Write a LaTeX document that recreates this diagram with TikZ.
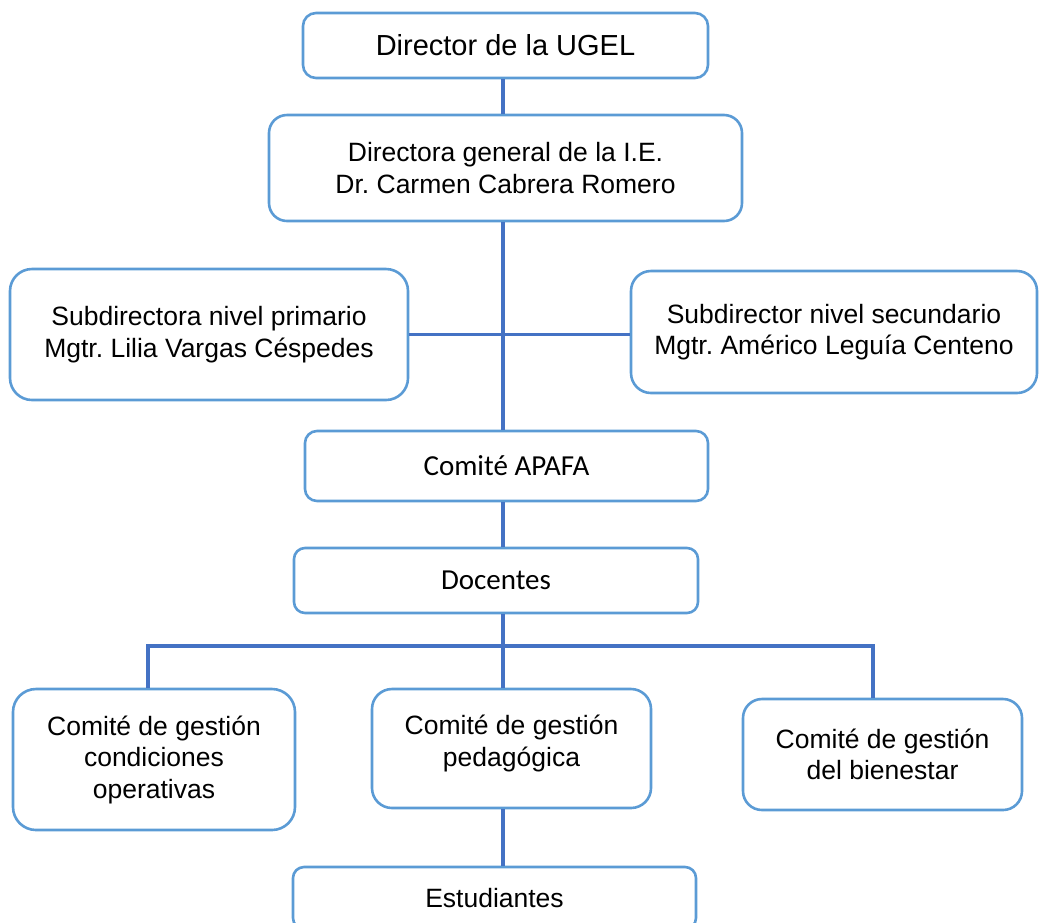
\documentclass[tikz,border=0pt]{standalone}
\usepackage{fontspec}
\setmainfont{Liberation Sans}
\newfontfamily\calibri{Carlito}
\usepackage{tikz}
\frenchspacing

\definecolor{boxblue}{HTML}{5B9BD5}
\definecolor{lineblue}{HTML}{4472C4}

\begin{document}
\begin{tikzpicture}[x=1pt,y=-1pt,
  box/.style={draw=boxblue,line width=2.6pt,rounded corners=#1,align=center,inner sep=0pt,
    font=\fontsize{26.5}{31.5}\selectfont},
  box/.default=13pt,
  link/.style={draw=lineblue,line width=3.8pt}]
\useasboundingbox (0,0) rectangle (1040,922);

\node[box,minimum width=405pt,minimum height=65pt,font=\fontsize{29}{34}\selectfont] (ugel) at (505.5,45.5) {Director de la UGEL};
\node[box=18pt,minimum width=473pt,minimum height=106pt] (dirgen) at (505.5,168) {Directora general de la I.E.\\Dr. Carmen Cabrera Romero};
\node[box=22pt,minimum width=398pt,minimum height=131pt] (subprim) at (209,334.5) {Subdirectora nivel primario\\Mgtr. Lilia Vargas Céspedes};
\node[box=20pt,minimum width=406pt,minimum height=122pt] (subsec) at (834,332) {Subdirector nivel secundario\\Mgtr. Américo Leguía Centeno};
\node[box=12pt,minimum width=403pt,minimum height=70pt,font=\calibri\fontsize{29}{34}\selectfont] (apafa) at (506.5,466) {Comité APAFA};
\node[box=11pt,minimum width=404pt,minimum height=65pt,font=\calibri\fontsize{29}{34}\selectfont] (docentes) at (496,580.5) {Docentes};
\node[box=23pt,minimum width=282pt,minimum height=141pt] (condop) at (154,759.5) {Comité de gestión\\condiciones\\operativas};
\node[box=20pt,minimum width=279pt,minimum height=119pt] (pedag) at (511.5,748.5) {Comité de gestión\\pedagógica\\[-16pt]};
\node[box=19pt,minimum width=279pt,minimum height=111pt] (bienestar) at (882.5,754.5) {Comité de gestión\\del bienestar};
\node[box=11pt,minimum width=403pt,minimum height=62pt] (estud) at (494.5,898) {Estudiantes};

\coordinate (spine) at (503,0);
\coordinate (busL) at (148,646);
\coordinate (busR) at (873,646);

\path[link] (ugel.south -| spine)      edge (dirgen.north -| spine)
            (dirgen.south -| spine)    edge (apafa.north -| spine)
            (subprim.east)             edge (subprim.east -| subsec.west)
            (apafa.south -| spine)     edge (docentes.north -| spine)
            (docentes.south -| spine)  edge (pedag.north -| spine)
            (pedag.south -| spine)     edge (estud.north -| spine);
\draw[link] (busL |- condop.north) -- (busL) -- (busR) -- (busR |- bienestar.north);
\end{tikzpicture}
\end{document}
